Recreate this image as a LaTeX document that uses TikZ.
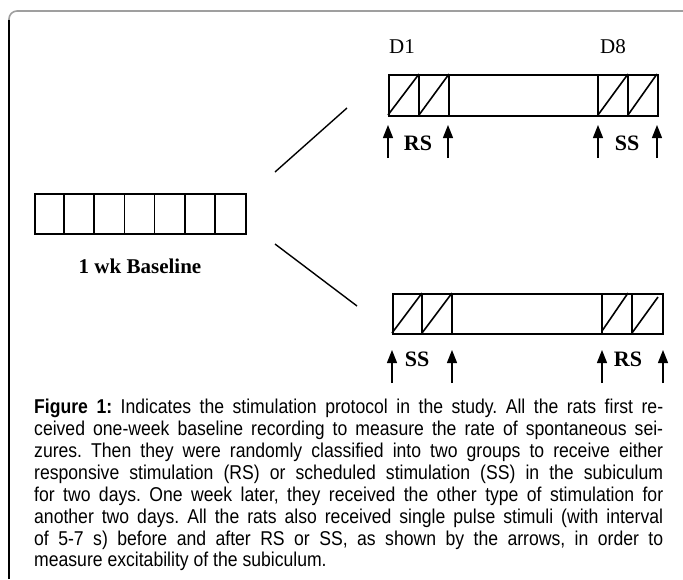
\documentclass[tikz,border=0pt]{standalone}
\usepackage{fontspec}
\setmainfont{Liberation Serif}
\newfontfamily\capfont[FakeStretch=0.88]{Liberation Sans}
\usetikzlibrary{arrows.meta}

\begin{document}
\begin{tikzpicture}[x=1pt,y=-1pt,
  box/.style={line width=1.6pt},
  cell/.style={draw,line width=1.6pt,inner sep=0pt,anchor=north west},
  pulse/.style={line width=1.4pt,-{Triangle[width=10pt,length=13pt]}},
  link/.style={line width=1.4pt},
  daylabel/.style={font=\fontsize{21}{21}\selectfont},
  stimlabel/.style={font=\bfseries\fontsize{22}{22}\selectfont},
]
\useasboundingbox (0,0) rectangle (683,579);

% frame: grey top edge, black left edge, rounded corner
\draw[line width=1.6pt,gray!75,rounded corners=8pt] (9,40) -- (9,11) -- (683,11);
\draw[line width=1.6pt] (9,579) -- (9,20);

% one-week baseline strip
\node[cell,minimum width=211pt,minimum height=40pt] (base) at (34,193) {};
\foreach \i in {1,...,6}
  \draw[box] ([xshift=\i*30.14pt]base.north west) -- ([xshift=\i*30.14pt]base.south west);
\node[font=\bfseries\fontsize{21}{21}\selectfont] (baselbl) at (140,266) {1 wk Baseline};

% branches to the two groups
\coordinate (up0) at (275,172);
\coordinate (up1) at (347,108);
\coordinate (dn0) at (275,244);
\coordinate (dn1) at (357,306);
\draw[link] (up0) -- (up1);
\draw[link] (dn0) -- (dn1);

% group 1 strip: RS first, SS one week later
\node[cell,minimum width=269pt,minimum height=41pt] (top) at (388,74) {};
\draw[box] (419,74) -- (419,115) (449,74) -- (449,115)
           (598,74) -- (598,115) (628,74) -- (628,115);
\draw[box] (388,115) -- (419,74) (419,115) -- (449,74)
           (598,115) -- (628,74) (628,115) -- (657,74);
\node[daylabel] (d1) at (402,47) {D1};
\node[daylabel] (d8) at (613,47) {D8};
\node[stimlabel] (rs1) at (418,143) {RS};
\node[stimlabel] (ss1) at (627,143) {SS};
\foreach \x [count=\k] in {388,448,598,657} {
  \coordinate (ta\k) at (\x,158);
  \coordinate (tb\k) at (\x,125);
  \draw[pulse] (ta\k) -- (tb\k);
}

% group 2 strip: SS first, RS one week later
\node[cell,minimum width=270pt,minimum height=40pt] (bot) at (392,293) {};
\draw[box] (422,293) -- (422,333) (452,293) -- (452,333)
           (602,293) -- (602,333) (632,293) -- (632,333);
\draw[box] (392,333) -- (422,293) (422,333) -- (452,293)
           (602,331) -- (628,293) (632,333) -- (658,297);
\node[stimlabel] (ss2) at (417,359) {SS};
\node[stimlabel] (rs2) at (628,359) {RS};
\foreach \x [count=\k] in {392,452,602,663} {
  \coordinate (ba\k) at (\x,383);
  \coordinate (bb\k) at (\x,350);
  \draw[pulse] (ba\k) -- (bb\k);
}

% caption
\node[anchor=north west,inner sep=0pt,text width=629pt,align=justify,
      font=\capfont\fontsize{20}{21.9}\selectfont] (caption) at (34,399)
  {\hyphenpenalty=10000\frenchspacing
   \textbf{Figure 1:} Indicates the stimulation protocol in the study. All the rats first re-\linebreak
   ceived one-week baseline recording to measure the rate of spontaneous sei-\linebreak
   zures. Then they were randomly classified into two groups to receive either\linebreak
   responsive stimulation (RS) or scheduled stimulation (SS) in the subiculum\linebreak
   for two days. One week later, they received the other type of stimulation for\linebreak
   another two days. All the rats also received single pulse stimuli (with interval\linebreak
   of 5-7 s) before and after RS or SS, as shown by the arrows, in order to\linebreak
   measure excitability of the subiculum.};
\end{tikzpicture}
\end{document}
